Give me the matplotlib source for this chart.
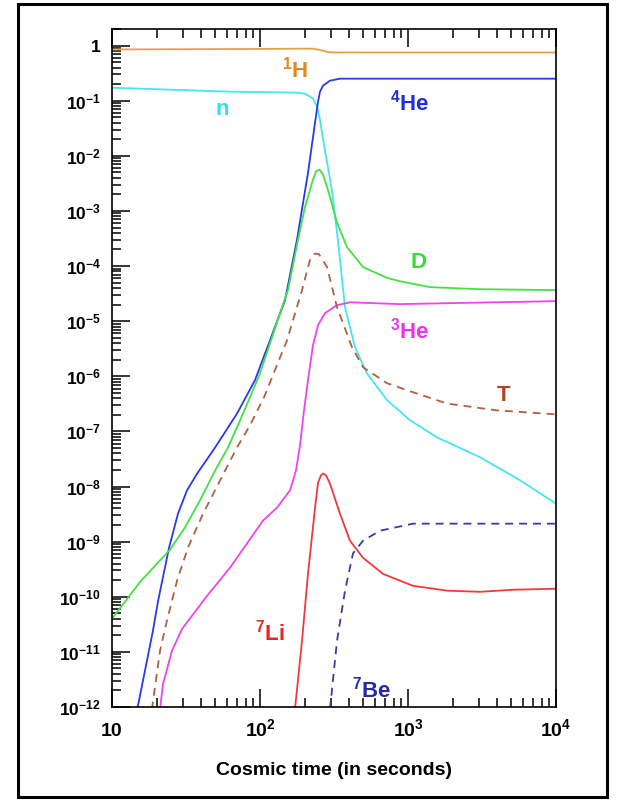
import matplotlib

matplotlib.use("Agg")
import matplotlib.pyplot as plt
import numpy as np
from matplotlib.patches import Rectangle
from matplotlib.ticker import FixedLocator, LogLocator, NullFormatter

plt.rcParams["font.family"] = ["Liberation Sans", "DejaVu Sans"]
plt.rcParams["font.weight"] = "bold"
plt.rcParams["mathtext.fontset"] = "custom"
plt.rcParams["mathtext.rm"] = "Liberation Sans:bold"
plt.rcParams["mathtext.bf"] = "Liberation Sans:bold"
plt.rcParams["mathtext.it"] = "Liberation Sans:bold"
plt.rcParams["mathtext.default"] = "bf"

# abundances vs cosmic time (s)
h1_t = [10, 100, 200, 228, 260, 290, 330, 1e4]
h1_y = [0.85, 0.87, 0.88, 0.88, 0.82, 0.76, 0.75, 0.75]

n_t = [10, 62.7, 178, 201.5, 228, 243, 254.4, 267, 306, 336, 375, 438, 528,
       721, 1031, 1571, 3066, 5710, 1e4]
n_y = [0.172, 0.146, 0.14, 0.134, 0.11, 0.078, 0.045, 0.0195, 2.4e-3, 3.0e-4,
       1.8e-5, 3.4e-6, 1.13e-6, 3.7e-7, 1.6e-7, 7.8e-8, 3.4e-8, 1.3e-8, 4.9e-9]

he4_t = [14.8, 18.9, 20.5, 24.3, 27.9, 32.1, 37.5, 49.7, 69.9, 92.5, 147.6,
         177.8, 211, 235.5, 246.7, 254.4, 266.5, 296.9, 347.1, 1e4]
he4_y = [9e-13, 2.4e-11, 8.5e-11, 7.8e-10, 3.2e-9, 8.5e-9, 1.7e-8, 5.1e-8,
         2.1e-7, 8.5e-7, 2.4e-5, 3.0e-4, 4.9e-3, 0.04, 0.096, 0.146, 0.187,
         0.231, 0.251, 0.251]

d_t = [10, 15.5, 24.7, 31.1, 39.3, 49.7, 60.8, 73.3, 89.7, 100, 140.9, 154.5,
       180.6, 201.5, 228, 240, 252, 266.5, 287.9, 331.3, 387.1, 496.6, 721,
       883, 1408, 3066, 1e4]
d_y = [4.0e-11, 1.87e-10, 7.2e-10, 1.8e-9, 5.6e-9, 1.95e-8, 5.1e-8, 1.58e-7,
       5.6e-7, 1.13e-6, 1.8e-5, 3.66e-5, 3.0e-4, 1.18e-3, 3.7e-3, 5.3e-3,
       5.6e-3, 4.6e-3, 2.4e-3, 6.1e-4, 2.2e-4, 9.6e-5, 6.1e-5, 5.3e-5,
       4.15e-5, 3.8e-5, 3.66e-5]

he3_t = [21.1, 22.1, 25.4, 29.7, 43.9, 62.7, 104.8, 130.4, 159.5, 175, 186.3,
         198.3, 211, 228, 246.7, 275, 331.3, 405.6, 883, 1e4]
he3_y = [9e-13, 2.6e-12, 1.04e-11, 2.6e-11, 1.04e-10, 3.37e-10, 2.41e-9,
         4.15e-9, 8.5e-9, 1.95e-8, 5.6e-8, 2.41e-7, 8.5e-7, 3.66e-6, 8.5e-6,
         1.4e-5, 1.95e-5, 2.2e-5, 2.04e-5, 2.31e-5]

t_t = [18.6, 21.1, 23.5, 27.5, 32.6, 41.2, 53.7, 69.9, 85.6, 106.4, 152.2,
       192.2, 217.7, 235, 250, 283.7, 331.3, 418.4, 496.6, 721, 984, 1837,
       3990, 1e4]
t_y = [9e-13, 1.04e-11, 3.66e-11, 1.95e-10, 7.8e-10, 3.2e-9, 1.29e-8, 5.1e-8,
       1.29e-7, 4.15e-7, 4.5e-6, 3.66e-5, 1.29e-4, 1.68e-4, 1.65e-4, 9.6e-5,
       1.8e-5, 3.37e-6, 1.46e-6, 7.5e-7, 5.6e-7, 3.2e-7, 2.41e-7, 2.04e-7]

li7_t = [172.2, 192.2, 211, 235.5, 246.7, 258.3, 266.5, 279.2, 296.9, 347.1,
         405.6, 496.6, 677.7, 1081, 1837, 3066, 5117, 1e4]
li7_y = [9e-13, 1.58e-11, 2.6e-10, 4.15e-9, 1.18e-8, 1.6e-8, 1.72e-8, 1.6e-8,
         1.13e-8, 3.2e-9, 1.04e-9, 5.1e-10, 2.6e-10, 1.58e-10, 1.29e-10,
         1.23e-10, 1.34e-10, 1.4e-10]

be7_t = [296.9, 331.3, 375.3, 424.9, 496.6, 647.3, 1081, 1e4]
be7_y = [9e-13, 1.58e-11, 1.29e-10, 6.1e-10, 1.04e-9, 1.58e-9, 2.12e-9,
         2.12e-9]

x_ticks = [10, 1e2, 1e3, 1e4]
x_labels = ["10", r"$10^{2}$", r"$10^{3}$", r"$10^{4}$"]
y_ticks = [10.0 ** k for k in range(-12, 1)]
y_labels = [r"$10^{-%d}$" % -k for k in range(-12, 0)] + ["1"]

# (text, x, y, colour) of the curve names
names = [
    (r"$^{1}$H", 172, 0.37, "#e08a1a"),
    ("n", 55.3, 0.069, "#33e0ee"),
    (r"$^{4}$He", 1031, 0.092, "#1f2fe0"),
    ("D", 1169, 1.18e-4, "#33dd33"),
    (r"$^{3}$He", 1031, 6.9e-6, "#ee33ee"),
    ("T", 4457, 4.5e-7, "#b0441f"),
    (r"$^{7}$Li", 117, 2.2e-11, "#ee2222"),
    (r"$^{7}$Be", 571, 2.1e-12, "#2a2aa0"),
]

fig = plt.figure(figsize=(6.19, 8.01), dpi=100)
ax = fig.add_axes([112 / 619, 94 / 801, 444 / 619, 678 / 801])

lw = 1.3
dash = (0, (4.4, 3.3))
ax.plot(h1_t, h1_y, color="#e8a048", lw=lw)
ax.plot(n_t, n_y, color="#44e6f0", lw=lw)
ax.plot(he4_t, he4_y, color="#2a3ae8", lw=lw)
ax.plot(d_t, d_y, color="#44e044", lw=lw)
ax.plot(he3_t, he3_y, color="#ee44ee", lw=lw)
ax.plot(t_t, t_y, color="#b06040", lw=lw, linestyle=dash)
ax.plot(li7_t, li7_y, color="#ee3a3a", lw=lw)
ax.plot(be7_t, be7_y, color="#3a3aa8", lw=lw, linestyle=dash)

for txt, x, y, c in names:
    ax.text(x, y, txt, color=c, fontsize=16, fontweight="bold",
            ha="center", va="center")

ax.set_xscale("log")
ax.set_yscale("log")
ax.set_xlim(10, 1e4)
ax.set_ylim(1e-12, 2.0)

ax.xaxis.set_major_locator(FixedLocator(x_ticks))
ax.set_xticklabels(x_labels)
ax.xaxis.set_minor_locator(LogLocator(base=10, subs=np.arange(2, 10), numticks=100))
ax.xaxis.set_minor_formatter(NullFormatter())
ax.yaxis.set_major_locator(FixedLocator(y_ticks))
ax.set_yticklabels(y_labels)
ax.yaxis.set_minor_locator(LogLocator(base=10, subs=np.arange(2, 10), numticks=100))
ax.yaxis.set_minor_formatter(NullFormatter())

ax.tick_params(axis="x", which="both", direction="in", top=True, bottom=True,
               width=1.1, labelsize=14, pad=21)
ax.tick_params(axis="y", which="both", direction="in", left=True, right=False,
               width=1.1, labelsize=12.5, pad=8)
ax.tick_params(which="major", length=13)
ax.tick_params(which="minor", length=6.5)
for lbl in ax.get_xticklabels():
    lbl.set_verticalalignment("baseline")
for s in ax.spines.values():
    s.set_linewidth(1.2)

ax.set_xlabel("Cosmic time (in seconds)", fontsize=14, fontweight="bold",
              labelpad=16)

fig.add_artist(Rectangle((18 / 619, 4 / 801), 589 / 619, 793 / 801,
                         transform=fig.transFigure, fill=False, lw=2.2,
                         ec="black"))

fig.savefig("out.png", dpi=100)
plt.close(fig)
